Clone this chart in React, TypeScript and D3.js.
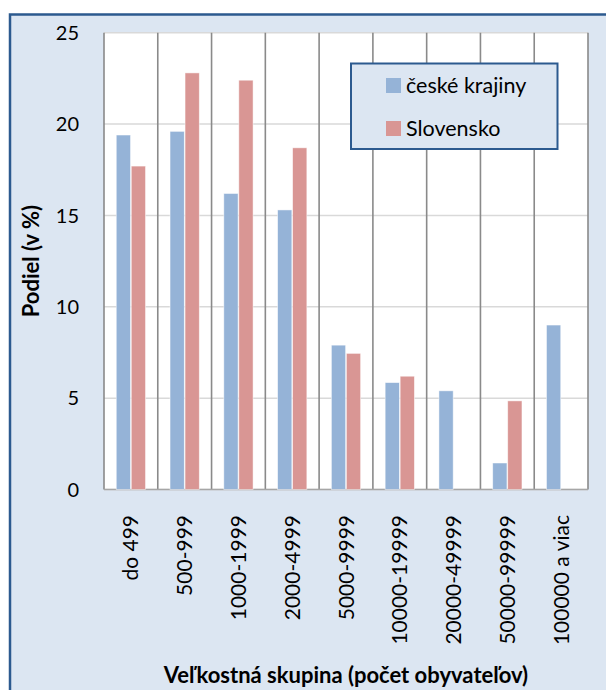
import React from "react";
import * as d3 from "d3";

const categories = ["do 499", "500-999", "1000-1999", "2000-4999", "5000-9999", "10000-19999", "20000-49999", "50000-99999", "100000 a viac"];
const seriesNames = ["české krajiny", "Slovensko"];
const czValues = [19.4, 19.6, 16.2, 15.3, 7.9, 5.85, 5.4, 1.45, 9.0];
const skValues = [17.7, 22.8, 22.4, 18.7, 7.45, 6.2, 0, 4.85, 0];
const yTicks = [0, 5, 10, 15, 20, 25];
const seriesColors = ["#95B3D7", "#D99694"];

const W = 606;
const H = 690;
const plot = { left: 104, right: 588, top: 32.7, bottom: 489.5 };
const FONT = "Lato, 'Open Sans', sans-serif";

export default function App() {
  const x = d3.scaleBand<string>().domain(categories).range([plot.left, plot.right]).padding(0);
  const bw = x.bandwidth();
  const x1 = d3.scaleBand<string>().domain(seriesNames).range([bw * 0.228, bw * 0.772]).paddingInner(0.05);
  const y = d3.scaleLinear().domain([0, 25]).range([plot.bottom, plot.top]);
  const data = [czValues, skValues];

  return (
    <svg width={W} height={H} style={{ position: "absolute", left: 0, top: 0, display: "block" }} fontFamily={FONT}>
      <rect x={0} y={0} width={W} height={H} fill="#ffffff" />
      <rect x={10} y={14.5} width={W + 10} height={H} fill="#DCE6F2" stroke="#2C5A8F" strokeWidth={2.5} />
      <rect x={plot.left} y={plot.top} width={plot.right - plot.left} height={plot.bottom - plot.top} fill="#ffffff" />
      {yTicks.map((t) => (
        <line key={"g" + t} x1={plot.left} x2={plot.right} y1={y(t)} y2={y(t)} stroke="#D9D9D9" strokeWidth={1.5} />
      ))}
      {categories.map((c) => (
        <line key={"v" + c} x1={(x(c) as number) + bw} x2={(x(c) as number) + bw} y1={plot.top} y2={plot.bottom} stroke="#8A8A8A" strokeWidth={1.6} />
      ))}
      <line x1={plot.left} x2={plot.left} y1={plot.top} y2={plot.bottom} stroke="#8A8A8A" strokeWidth={1.6} />
      <line x1={plot.left} x2={plot.right} y1={plot.bottom} y2={plot.bottom} stroke="#A6A6A6" strokeWidth={1.6} />
      {data.map((vals, si) =>
        categories.map((c, i) =>
          vals[i] > 0 ? (
            <rect
              key={si + "-" + c}
              x={(x(c) as number) + (x1(seriesNames[si]) as number)}
              y={y(vals[i])}
              width={x1.bandwidth()}
              height={y(0) - y(vals[i])}
              fill={seriesColors[si]}
              stroke="#ffffff"
              strokeOpacity={0.6}
              strokeWidth={0.8}
            />
          ) : null
        )
      )}
      {yTicks.map((t) => (
        <text key={"t" + t} x={79} y={y(t)} dy="0.36em" textAnchor="end" fontSize={20} fill="#000">
          {t}
        </text>
      ))}
      {categories.map((c) => {
        const cx = (x(c) as number) + bw / 2;
        return (
          <text key={"l" + c} transform={`translate(${cx + 7.5},${515}) rotate(-90)`} textAnchor="end" fontSize={21} fill="#000">
            {c}
          </text>
        );
      })}
      <text transform={`translate(39,${(plot.top + plot.bottom) / 2}) rotate(-90)`} textAnchor="middle" fontSize={22} fontWeight="bold" fill="#000">
        Podiel (v %)
      </text>
      <text x={(plot.left + plot.right) / 2} y={683} textAnchor="middle" fontSize={22} fontWeight="bold" fill="#000">
        Veľkostná skupina (počet obyvateľov)
      </text>
      <g>
        <rect x={351} y={63.5} width={206.5} height={85.5} fill="#DCE6F2" stroke="#2C5A8F" strokeWidth={2} />
        {seriesNames.map((s, i) => (
          <g key={"lg" + s} transform={`translate(386,${78 + i * 43})`}>
            <rect x={0} y={0} width={15} height={15} fill={seriesColors[i]} />
            <text x={20} y={14.5} fontSize={21.5} fill="#000">
              {s}
            </text>
          </g>
        ))}
      </g>
    </svg>
  );
}
